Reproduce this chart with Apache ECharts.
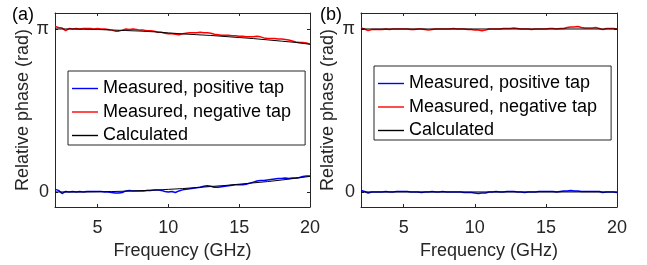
<!DOCTYPE html>
<html>
<head>
<meta charset="utf-8">
<title>Relative phase</title>
<script src="https://cdn.jsdelivr.net/npm/echarts@6/dist/echarts.min.js"></script>
<style>
    *{margin:0;padding:0;}
    body{background:#fff;}
    #main{width:647px;height:265px;}
</style>
</head>
<body>
<div id="main"></div>
<script>
    // frequency grid of the measured traces (GHz)
    var freq = [2,2.25,2.5,2.75,3,3.25,3.5,3.75,4,4.25,4.5,4.75,5,5.25,5.5,5.75,6,6.25,6.5,6.75,
        7,7.25,7.5,7.75,8,8.25,8.5,8.75,9,9.25,9.5,9.75,10,10.25,10.5,10.75,11,11.25,11.5,11.75,
        12,12.25,12.5,12.75,13,13.25,13.5,13.75,14,14.25,14.5,14.75,15,15.25,15.5,15.75,16,16.25,
        16.5,16.75,17,17.25,17.5,17.75,18,18.25,18.5,18.75,19,19.25,19.5,19.75,20];
    // frequency grid of the calculated curves (GHz)
    var calcFreq = [2,3,4,5,6,7,8,9,10,11,12,13,14,15,16,17,18,19,20];

    // (a) measured, rad
    var aPos = [0.05,0.03,-0.03,0.01,0.00,0.01,0.00,0.01,0.00,0.01,0.01,0.01,0.01,0.01,0.00,0.00,
        -0.01,-0.02,-0.02,-0.01,0.02,0.03,0.02,0.02,0.02,0.02,0.03,0.03,0.04,0.04,0.03,0.01,
        0.00,0.01,-0.01,0.02,0.04,0.05,0.06,0.07,0.08,0.09,0.11,0.12,0.11,0.09,0.09,0.10,
        0.11,0.12,0.13,0.14,0.14,0.14,0.15,0.17,0.19,0.21,0.22,0.22,0.23,0.24,0.25,0.26,
        0.26,0.27,0.26,0.27,0.27,0.28,0.30,0.31,0.31];
    var aNeg = [3.19,3.17,3.16,3.11,3.15,3.14,3.15,3.14,3.15,3.15,3.15,3.14,3.15,3.14,3.14,3.13,
        3.12,3.10,3.10,3.12,3.14,3.13,3.14,3.13,3.12,3.12,3.11,3.11,3.10,3.08,3.08,3.06,
        3.05,3.05,3.04,3.03,3.05,3.06,3.07,3.07,3.07,3.08,3.07,3.07,3.06,3.04,3.03,3.02,
        3.02,3.02,3.01,3.01,3.00,3.00,2.99,2.99,2.99,3.00,2.99,2.97,2.96,2.96,2.96,2.95,
        2.95,2.94,2.93,2.91,2.89,2.88,2.88,2.87,2.85];
    // (a) calculated, rad
    var aCalcPos = [0,0,0,0.003,0.008,0.015,0.025,0.035,0.05,0.065,0.085,0.105,0.125,0.15,0.175,0.2,0.23,0.265,0.3];
    var aCalcNeg = [3.142,3.142,3.137,3.132,3.122,3.112,3.102,3.087,3.067,3.047,3.032,3.017,2.997,2.977,2.957,2.932,2.907,2.882,2.847];

    // (b) measured, rad
    var bPos = [0.03,0.01,-0.02,0.00,0.00,0.00,0.00,0.01,0.00,0.00,0.01,0.01,0.01,0.01,0.00,0.00,
        0.00,-0.01,0.00,0.00,0.01,0.00,0.00,0.01,0.00,0.00,0.00,0.00,0.00,-0.01,-0.01,-0.01,
        -0.02,-0.03,-0.02,-0.02,0.00,0.00,0.01,0.00,0.00,0.01,0.01,0.01,0.00,0.00,-0.01,0.00,
        0.00,0.00,0.01,0.01,0.01,0.01,0.01,0.00,0.01,0.02,0.02,0.03,0.02,0.02,0.01,0.01,
        0.01,0.01,0.01,0.01,-0.01,0.00,0.00,0.00,-0.01];
    var bNeg = [3.16,3.14,3.11,3.13,3.13,3.13,3.13,3.14,3.13,3.14,3.14,3.14,3.14,3.14,3.13,3.13,
        3.14,3.14,3.13,3.12,3.13,3.14,3.14,3.14,3.14,3.14,3.15,3.14,3.14,3.14,3.13,3.13,
        3.12,3.12,3.11,3.12,3.14,3.14,3.14,3.14,3.15,3.15,3.15,3.16,3.15,3.14,3.14,3.14,
        3.13,3.14,3.14,3.14,3.14,3.15,3.15,3.14,3.15,3.15,3.17,3.18,3.18,3.19,3.17,3.16,
        3.16,3.16,3.17,3.15,3.13,3.15,3.15,3.15,3.14];
    // (b) calculated, rad
    var bCalcFreq = [2,20];
    var bCalcPos = [0,0];
    var bCalcNeg = [3.1416,3.1416];

    var xTicks = [5,10,15,20];
    var yTicks = [0,Math.PI];
    var names = ['Measured, positive tap','Measured, negative tap','Calculated'];

    var FONT = '"Liberation Sans", Arial, Helvetica, sans-serif';
    var AX = '#262626';

    function pairs(xs, ys){
        var out = [];
        for (var i=0;i<xs.length;i++){
            out.push([xs[i], ys[i]]);
        }
        return out;
    }

    function xAxis(g, main){
        return {
            type:'value', gridIndex:g, min:2, max:20,
            position: main ? 'bottom' : 'top',
            name: main ? 'Frequency (GHz)' : '',
            nameLocation:'middle', nameGap:31,
            nameTextStyle:{fontSize:18, color:AX, fontFamily:FONT},
            axisLine:{show:true, onZero:false, lineStyle:{color:AX, width:1}},
            axisTick:{show:true, inside:true, length:3, customValues:xTicks, lineStyle:{color:AX}},
            axisLabel:{show:main, customValues:xTicks, margin:12, fontSize:18, color:AX, fontFamily:FONT},
            splitLine:{show:false}
        };
    }
    function yAxis(g, main, gap){
        return {
            type:'value', gridIndex:g, min:-0.29, max:3.45,
            position: main ? 'left' : 'right',
            name: main ? 'Relative phase (rad)' : '',
            nameLocation:'middle', nameGap:gap,
            nameTextStyle:{fontSize:18, color:AX, fontFamily:FONT},
            axisLine:{show:true, onZero:false, lineStyle:{color:AX, width:1}},
            axisTick:{show:true, inside:true, length:3, customValues:yTicks, lineStyle:{color:AX}},
            axisLabel:{show:main, customValues:yTicks, margin:6, fontSize:18, color:AX, fontFamily:FONT,
                formatter:function(v){ return v > 1 ? 'π' : '0'; }},
            splitLine:{show:false}
        };
    }
    function line(name, g, xs, ys, color, w){
        return {
            name:name, type:'line', xAxisIndex:g*2, yAxisIndex:g*2,
            data:pairs(xs, ys), symbol:'none', silent:true, animation:false,
            lineStyle:{color:color, width:w}, itemStyle:{color:color}
        };
    }
    function legend(left, top){
        return {
            orient:'vertical', left:left, top:top, data:names, selectedMode:false,
            icon:'path://M0,0 L26,0 L26,1.4 L0,1.4 Z',
            itemWidth:26, itemHeight:24, itemGap:5.5, padding:[8.5,14,0.5,4],
            borderColor:AX, borderWidth:1, backgroundColor:'#fff',
            textStyle:{fontSize:18, color:'#000', fontFamily:FONT}
        };
    }

    var myChart = echarts.init(document.getElementById('main'), null, {renderer:'canvas'});
    var option = {
        animation:false,
        backgroundColor:'#fff',
        title:[
            {text:'(a)', left:12, top:6, padding:0, textStyle:{fontSize:18, fontWeight:'normal', color:'#000', fontFamily:FONT}},
            {text:'(b)', left:320, top:6, padding:0, textStyle:{fontSize:18, fontWeight:'normal', color:'#000', fontFamily:FONT}}
        ],
        grid:[
            {left:55, top:13, width:255, height:194},
            {left:361, top:13, width:256, height:194}
        ],
        xAxis:[xAxis(0,true), xAxis(0,false), xAxis(1,true), xAxis(1,false)],
        yAxis:[yAxis(0,true,23), yAxis(0,false,0), yAxis(1,true,24), yAxis(1,false,0)],
        legend:[legend(68,71), legend(374,66)],
        series:[
            line(names[0], 0, freq, aPos, '#0000ff', 1.5),
            line(names[1], 0, freq, aNeg, '#ff0000', 1.5),
            line(names[2], 0, calcFreq, aCalcPos, '#000000', 1),
            line(names[2], 0, calcFreq, aCalcNeg, '#000000', 1),
            line(names[0], 1, freq, bPos, '#0000ff', 1.5),
            line(names[1], 1, freq, bNeg, '#ff0000', 1.5),
            line(names[2], 1, bCalcFreq, bCalcPos, '#000000', 1),
            line(names[2], 1, bCalcFreq, bCalcNeg, '#000000', 1)
        ]
    };
    myChart.setOption(option);
</script>
</body>
</html>
